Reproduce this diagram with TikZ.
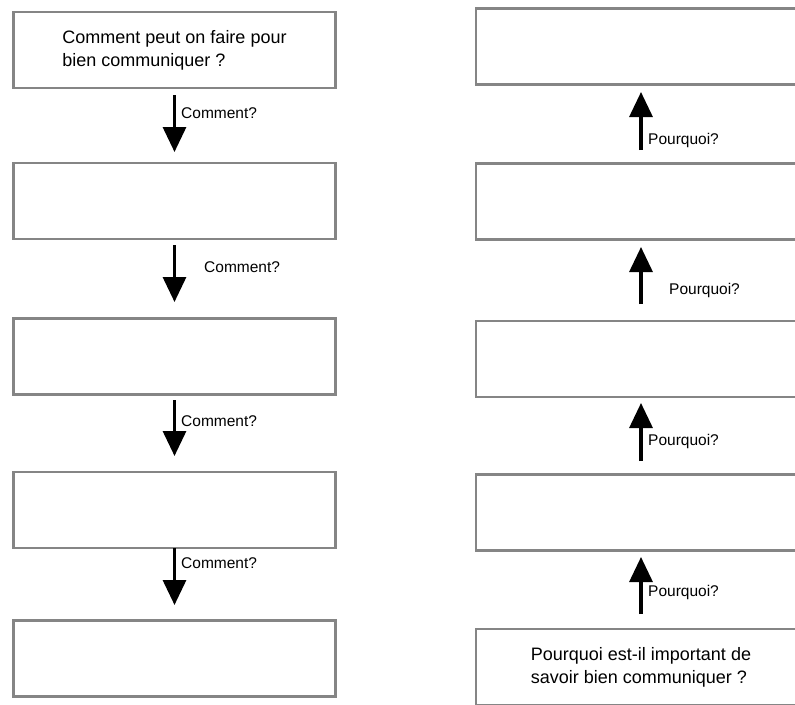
\documentclass[tikz,border=0pt]{standalone}
\usepackage{fontspec}
\setmainfont{Liberation Sans}
\usetikzlibrary{arrows.meta}
\begin{document}
\begin{tikzpicture}[x=1pt,y=-1pt,
  box/.style={draw=black!48,line width=2.4pt,minimum height=76pt,inner sep=0pt,
    font=\fontsize{18}{23}\selectfont,align=left},
  lbox/.style={box,minimum width=322pt},
  rbox/.style={box,minimum width=330pt},
  bigarrow/.style={line width=3.2pt,-{Triangle[width=23pt,length=25pt]}},
  lbl/.style={font=\fontsize{15.5}{18}\selectfont,anchor=west,inner sep=0pt}]
\useasboundingbox (0,0) rectangle (795,704);
% left column
\node[lbox] (l1) at (174.5,50) {Comment peut on faire pour\\bien communiquer ?};
\node[lbox] (l2) at (174.5,201) {};
\node[lbox] (l3) at (174.5,356.5) {};
\node[lbox] (l4) at (174.5,510) {};
\node[lbox] (l5) at (174.5,658.5) {};
% right column
\node[rbox] (r1) at (641,46.5) {};
\node[rbox] (r2) at (641,201.5) {};
\node[rbox] (r3) at (641,359) {};
\node[rbox] (r4) at (641,512.5) {};
\node[rbox] (r5) at (641,667) {Pourquoi est-il important de\\savoir bien communiquer ?};
% left arrows
\coordinate (la1s) at (174.5,95);  \coordinate (la1e) at (174.5,152);
\coordinate (la2s) at (174.5,245); \coordinate (la2e) at (174.5,302);
\coordinate (la3s) at (174.5,400); \coordinate (la3e) at (174.5,456);
\coordinate (la4s) at (174.5,548); \coordinate (la4e) at (174.5,605);
\draw[bigarrow] (la1s) -- (la1e);
\draw[bigarrow] (la2s) -- (la2e);
\draw[bigarrow] (la3s) -- (la3e);
\draw[bigarrow] (la4s) -- (la4e);
\node[lbl] (c1) at (181,113) {Comment?};
\node[lbl] (c2) at (204,267) {Comment?};
\node[lbl] (c3) at (181,421) {Comment?};
\node[lbl] (c4) at (181,563) {Comment?};
% right arrows
\coordinate (ra1s) at (641,150); \coordinate (ra1e) at (641,92);
\coordinate (ra2s) at (641,304); \coordinate (ra2e) at (641,247);
\coordinate (ra3s) at (641,461); \coordinate (ra3e) at (641,403);
\coordinate (ra4s) at (641,614); \coordinate (ra4e) at (641,557);
\draw[bigarrow] (ra1s) -- (ra1e);
\draw[bigarrow] (ra2s) -- (ra2e);
\draw[bigarrow] (ra3s) -- (ra3e);
\draw[bigarrow] (ra4s) -- (ra4e);
\node[lbl] (p1) at (648,140) {Pourquoi?};
\node[lbl] (p2) at (669,290) {Pourquoi?};
\node[lbl] (p3) at (648,441) {Pourquoi?};
\node[lbl] (p4) at (648,592) {Pourquoi?};
\end{tikzpicture}
\end{document}
